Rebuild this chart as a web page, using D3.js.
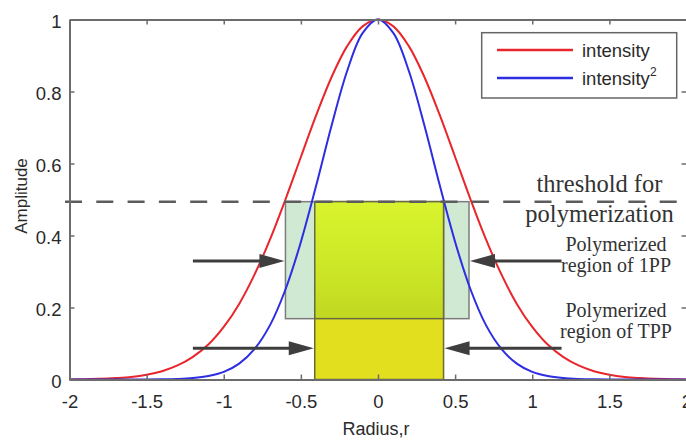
<!DOCTYPE html>
<html>
<head>
<meta charset="utf-8">
<script src="https://cdn.jsdelivr.net/npm/d3@7"></script>
<style>
  html, body { margin: 0; padding: 0; background: #fff; }
  svg { display: block; }
</style>
</head>
<body>
<svg id="chart" width="686" height="440"></svg>
<script>
// ---- data ----
const radius = [-2,-1.9,-1.8,-1.7,-1.6,-1.5,-1.4,-1.3,-1.2,-1.1,-1,-0.9,-0.8,-0.7,-0.6,-0.5,-0.4,-0.3,-0.2,-0.1,0,
                0.1,0.2,0.3,0.4,0.5,0.6,0.7,0.8,0.9,1,1.1,1.2,1.3,1.4,1.5,1.6,1.7,1.8,1.9,2];
const intensity = [0.000,0.001,0.002,0.004,0.007,0.013,0.023,0.039,0.063,0.097,0.146,0.210,0.292,0.389,0.500,0.618,0.735,0.841,0.926,0.981,1.000,
                   0.981,0.926,0.841,0.735,0.618,0.500,0.389,0.292,0.210,0.146,0.097,0.063,0.039,0.023,0.013,0.007,0.004,0.002,0.001,0.000];
const intensitySq = [0.000,0.000,0.000,0.000,0.0001,0.0002,0.0005,0.0015,0.0039,0.0095,0.021,0.044,0.085,0.151,0.250,0.382,0.540,0.707,0.857,0.962,1.000,
                     0.962,0.857,0.707,0.540,0.382,0.250,0.151,0.085,0.044,0.021,0.0095,0.0039,0.0015,0.0005,0.0002,0.0001,0.000,0.000,0.000,0.000];
const xTicks = [-2,-1.5,-1,-0.5,0,0.5,1,1.5,2];
const yTicks = [0,0.2,0.4,0.6,0.8,1];
const threshold = 0.494;
const region1PP = [-0.6, 0.59];     // r range of 1PP box
const regionTPP = [-0.41, 0.425];   // r range of TPP box
const box1PPBottom = 0.169;
const arrowLevels = [0.329, 0.087];  // 1PP arrows, TPP arrows
const arrowStartLeft = -1.2;
const arrowStartRight = 1.19;
const seriesNames = ["intensity", "intensity"];
const annotations = [
  {lines: ["threshold for", "polymerization"]},
  {lines: ["Polymerized", "region of 1PP"]},
  {lines: ["Polymerized", "region of TPP"]}
];

// ---- drawing ----
const svg = d3.select("#chart");
const x = d3.scaleLinear().domain([-2, 2]).range([69.5, 686.5]);
const y = d3.scaleLinear().domain([0, 1]).range([379.5, 19.5]);

const defs = svg.append("defs");
const grad = defs.append("linearGradient").attr("id", "ovl").attr("x1", 0).attr("y1", 0).attr("x2", 0).attr("y2", 1);
grad.append("stop").attr("offset", "0%").attr("stop-color", "#d8f42e");
grad.append("stop").attr("offset", "60%").attr("stop-color", "#cbe626");
grad.append("stop").attr("offset", "100%").attr("stop-color", "#c0d820");

// 1PP box (green)
svg.append("rect")
  .attr("x", x(region1PP[0])).attr("y", y(threshold))
  .attr("width", x(region1PP[1]) - x(region1PP[0]))
  .attr("height", y(box1PPBottom) - y(threshold))
  .attr("fill", "#d0e9d3").attr("stroke", "#7c7c7c").attr("stroke-width", 1.5);
// TPP box (yellow)
svg.append("rect")
  .attr("x", x(regionTPP[0])).attr("y", y(threshold))
  .attr("width", x(regionTPP[1]) - x(regionTPP[0]))
  .attr("height", y(0) - y(threshold))
  .attr("fill", "#e2e01e").attr("stroke", "#6e6a30").attr("stroke-width", 1.5);
// overlap
svg.append("rect")
  .attr("x", x(regionTPP[0])).attr("y", y(threshold))
  .attr("width", x(regionTPP[1]) - x(regionTPP[0]))
  .attr("height", y(box1PPBottom) - y(threshold))
  .attr("fill", "url(#ovl)").attr("stroke", "#6a6a40").attr("stroke-width", 1.5);

// curves
const pts1 = radius.map((r, i) => [r, intensity[i]]);
const pts2 = radius.map((r, i) => [r, intensitySq[i]]);
const line = d3.line().x(d => x(d[0])).y(d => y(d[1])).curve(d3.curveCatmullRom.alpha(0.5));
svg.append("path").attr("d", line(pts1)).attr("fill", "none").attr("stroke", "#e8262c").attr("stroke-width", 2);
svg.append("path").attr("d", line(pts2)).attr("fill", "none").attr("stroke", "#2d2de2").attr("stroke-width", 2);

// threshold dashed line
svg.append("line")
  .attr("x1", x(-2) - 4.5).attr("x2", 700)
  .attr("y1", y(threshold)).attr("y2", y(threshold))
  .attr("stroke", "#5c5c5c").attr("stroke-width", 2.5)
  .attr("stroke-dasharray", "17,14.3");

// arrows
const arrowColor = "#3e3e3e";
function arrow(xs, xe, yv) {
  const dir = xe > xs ? 1 : -1;
  const headLen = 25, headHalf = 7;
  svg.append("line")
    .attr("x1", xs).attr("x2", xe - dir * headLen + dir * 2)
    .attr("y1", yv).attr("y2", yv)
    .attr("stroke", arrowColor).attr("stroke-width", 3);
  svg.append("path")
    .attr("d", `M${xe},${yv} L${xe - dir * headLen},${yv - headHalf} L${xe - dir * headLen},${yv + headHalf} Z`)
    .attr("fill", arrowColor);
}
arrow(x(arrowStartLeft), x(region1PP[0]) - 1, y(arrowLevels[0]));
arrow(x(arrowStartRight), x(region1PP[1]) + 1, y(arrowLevels[0]));
arrow(x(arrowStartLeft), x(regionTPP[0]) - 1, y(arrowLevels[1]));
arrow(x(arrowStartRight), x(regionTPP[1]) + 1, y(arrowLevels[1]));

// axes
const axisColor = "#6c6c6c";
const fmt = d => String(d);
function styleAxis(g) {
  g.select(".domain").attr("stroke", axisColor).attr("stroke-width", 2);
  g.selectAll(".tick line").attr("stroke", axisColor).attr("stroke-width", 1.5);
  g.selectAll(".tick text").attr("fill", "#2a2a2a")
    .style("font-family", "'Liberation Sans', Arial, sans-serif").style("font-size", "18.5px");
}
const gB = svg.append("g").attr("transform", `translate(0,${y(0)})`)
  .call(d3.axisBottom(x).tickValues(xTicks).tickFormat(fmt).tickSizeInner(-5).tickSizeOuter(0).tickPadding(15));
styleAxis(gB);
const gT = svg.append("g").attr("transform", `translate(0,${y(1)})`)
  .call(d3.axisTop(x).tickValues(xTicks).tickFormat("").tickSizeInner(-5).tickSizeOuter(0));
styleAxis(gT);
const gL = svg.append("g").attr("transform", `translate(${x(-2)},0)`)
  .call(d3.axisLeft(y).tickValues(yTicks).tickFormat(fmt).tickSizeInner(-5).tickSizeOuter(0).tickPadding(8));
styleAxis(gL);
gL.selectAll(".tick text").attr("dy", "0.44em");
const gR = svg.append("g").attr("transform", `translate(${x(2)},0)`)
  .call(d3.axisRight(y).tickValues(yTicks).tickFormat("").tickSizeInner(-5).tickSizeOuter(0));
styleAxis(gR);

// axis labels
svg.append("text").attr("x", 376).attr("y", 435).attr("text-anchor", "middle")
  .attr("fill", "#2a2a2a").style("font-family", "'Liberation Sans', Arial, sans-serif").style("font-size", "18px")
  .text("Radius,r");
svg.append("text").attr("transform", "translate(27,196) rotate(-90)").attr("text-anchor", "middle")
  .attr("fill", "#2a2a2a").style("font-family", "'Liberation Sans', Arial, sans-serif").style("font-size", "17px")
  .text("Amplitude");

// legend
const lg = svg.append("g");
lg.append("rect").attr("x", 481.7).attr("y", 32.7).attr("width", 195).attr("height", 65.3)
  .attr("fill", "#fff").attr("stroke", "#666").attr("stroke-width", 1.5);
const legendColors = ["#e8262c", "#2d2de2"];
const legendY = [50, 78];
seriesNames.forEach((name, i) => {
  lg.append("line").attr("x1", 497).attr("x2", 573).attr("y1", legendY[i]).attr("y2", legendY[i])
    .attr("stroke", legendColors[i]).attr("stroke-width", 2.5);
  const t = lg.append("text").attr("x", 582).attr("y", legendY[i] + 6.7).attr("fill", "#2a2a2a")
    .style("font-family", "'Liberation Sans', Arial, sans-serif").style("font-size", "18.5px")
    .text(name);
  if (i === 1) {
    t.append("tspan").attr("dy", -9).style("font-size", "12px").text("2");
  }
});

// annotations
const serif = "'Liberation Serif', 'Times New Roman', serif";
const annoPos = [
  {cx: 599.5, base: [191.7, 221.7], size: 24.5},
  {cx: 616, base: [250.7, 271.7], size: 20},
  {cx: 616, base: [316.7, 338], size: 20}
];
annotations.forEach((a, i) => {
  a.lines.forEach((ln, j) => {
    svg.append("text").attr("x", annoPos[i].cx).attr("y", annoPos[i].base[j])
      .attr("text-anchor", "middle").attr("fill", "#333")
      .style("font-family", serif).style("font-size", annoPos[i].size + "px")
      .text(ln);
  });
});
</script>
</body>
</html>
